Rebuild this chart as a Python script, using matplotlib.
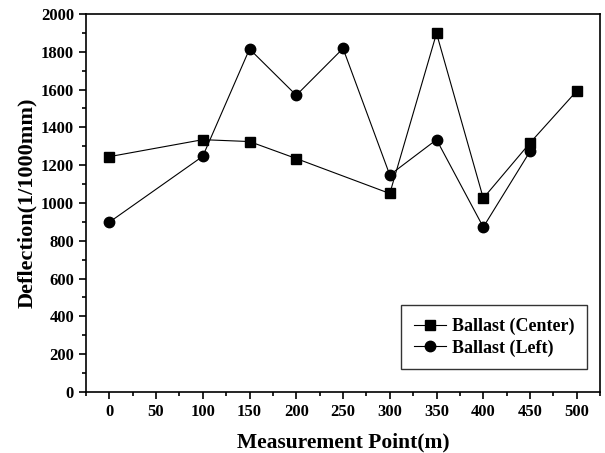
import matplotlib
matplotlib.use('Agg')
import matplotlib.pyplot as plt
from matplotlib.ticker import MultipleLocator

plt.rcParams['font.family'] = ['Liberation Serif', 'DejaVu Serif']
plt.rcParams['font.weight'] = 'bold'

# data
x_center = [0, 100, 150, 200, 300, 350, 400, 450, 500]
y_center = [1245, 1335, 1325, 1235, 1050, 1898, 1025, 1318, 1593]
x_left = [0, 100, 150, 200, 250, 300, 350, 400, 450]
y_left = [898, 1247, 1815, 1570, 1818, 1148, 1335, 872, 1273]

fig = plt.figure(figsize=(6.05, 4.53), dpi=100)
ax = fig.add_axes([0.142, 0.135, 0.85, 0.834])

ax.plot(x_center, y_center, color='black', lw=0.8, marker='s', ms=6.5,
        label='Ballast (Center)')
ax.plot(x_left, y_left, color='black', lw=0.8, marker='o', ms=7.5,
        label='Ballast (Left)')

ax.set_xlim(-25, 525)
ax.set_ylim(0, 2000)
ax.xaxis.set_major_locator(MultipleLocator(50))
ax.xaxis.set_minor_locator(MultipleLocator(25))
ax.yaxis.set_major_locator(MultipleLocator(200))
ax.yaxis.set_minor_locator(MultipleLocator(100))
ax.tick_params(which='both', direction='out', width=1.2, labelsize=12)
ax.tick_params(which='major', length=5)
ax.tick_params(which='minor', length=3)
for s in ax.spines.values():
    s.set_linewidth(1.2)
for lab in ax.get_xticklabels() + ax.get_yticklabels():
    lab.set_fontweight('bold')

ax.set_xlabel('Measurement Point(m)', fontsize=15.5, fontweight='bold', labelpad=9)
ax.set_ylabel('Deflection(1/1000mm)', fontsize=16, fontweight='bold', labelpad=3)

leg = ax.legend(loc='lower right', bbox_to_anchor=(0.985, 0.045), fontsize=13,
                frameon=True, fancybox=False, edgecolor='black',
                handlelength=1.8, handletextpad=0.3, borderpad=0.7,
                borderaxespad=0.3, labelspacing=0.25)
leg.get_frame().set_linewidth(1.0)

fig.savefig('out.png', dpi=100)
